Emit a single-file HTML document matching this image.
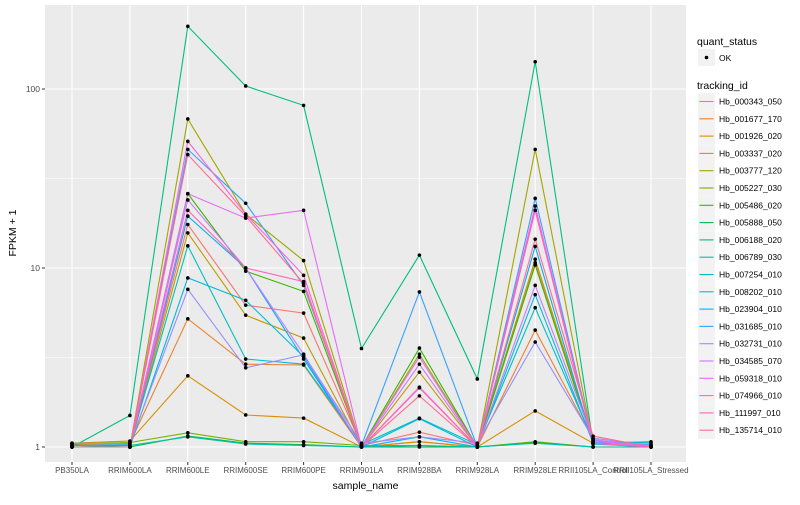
<!DOCTYPE html>
<html><head><meta charset="utf-8"><style>
body{margin:0;background:#fff;font-family:"Liberation Sans",sans-serif}
svg text{font-family:"Liberation Sans",sans-serif}
</style></head><body>
<svg id="c" width="800" height="500"></svg>
<script>
const categories=["PB350LA","RRIM600LA","RRIM600LE","RRIM600SE","RRIM600PE","RRIM901LA","RRIM928BA","RRIM928LA","RRIM928LE","RRII105LA_Control","RRII105LA_Stressed"];
const seriesNames=["Hb_000343_050","Hb_001677_170","Hb_001926_020","Hb_003337_020","Hb_003777_120","Hb_005227_030","Hb_005486_020","Hb_005888_050","Hb_006188_020","Hb_006789_030","Hb_007254_010","Hb_008202_010","Hb_023904_010","Hb_031685_010","Hb_032731_010","Hb_034585_070","Hb_059318_010","Hb_074966_010","Hb_111997_010","Hb_135714_010"];
const seriesColors=["#F8766D","#EA8331","#D89000","#C09B00","#A3A500","#7CAE00","#39B600","#00BB4E","#00BF7D","#00C1A3","#00BFC4","#00BAE0","#00B0F6","#35A2FF","#9590FF","#C77CFF","#E76BF3","#FA62DB","#FF62BC","#FF6C91"];
const s0=[1.02,1.02,17.5,6.2,5.6,1.02,1.21,1.02,10.7,1.05,1.0];
const s1=[1.03,1.05,5.2,2.9,2.87,1.0,1.07,1.0,4.5,1.1,1.0];
const s2=[1.05,1.08,2.5,1.51,1.45,1.0,1.07,1.0,1.59,1.05,1.0];
const s3=[1.0,1.0,15.7,5.45,4.06,1.0,2.62,1.0,11.2,1.08,1.02];
const s4=[1.0,1.0,68,20,11,1.0,3.3,1.0,46,1.05,1.0];
const s5=[1.04,1.06,1.2,1.07,1.07,1.02,1.02,1.0,1.07,1.0,1.0];
const s6=[1.0,1.0,26,9.6,7.4,1.0,3.57,1.0,10.4,1.05,1.0];
const s7=[1.0,1.0,1.15,1.05,1.03,1.0,1.0,1.0,1.06,1.0,1.0];
const s8=[1.0,1.5,224,104,81,3.55,11.8,2.4,142,1.05,1.0];
const s9=[1.0,1.02,1.14,1.04,1.02,1.0,1.02,1.0,1.05,1.0,1.0];
const s10=[1.02,1.03,13.3,3.1,2.9,1.03,1.45,1.03,6.0,1.08,1.05];
const s11=[1.0,1.0,8.8,6.6,3.2,1.0,1.44,1.0,7.1,1.05,1.07];
const s12=[1.0,1.0,19.5,10,3.1,1.0,1.14,1.0,13.2,1.04,1.0];
const s13=[1.0,1.0,46,23,8.0,1.02,7.35,1.0,24.5,1.06,1.03];
const s14=[1.05,1.04,7.6,2.77,3.27,1.05,1.14,1.05,3.86,1.12,1.02];
const s15=[1.0,1.0,24,10,3.3,1.0,2.9,1.0,8.0,1.1,1.0];
const s16=[1.0,1.0,26,19,21,1.0,3.18,1.0,21,1.08,1.0];
const s17=[1.0,1.0,51,20,9.1,1.0,2.16,1.0,22.2,1.05,1.0];
const s18=[1.0,1.0,21,10,8.4,1.0,2.14,1.0,21,1.05,1.0];
const s19=[1.0,1.0,43,19.5,8.2,1.0,1.93,1.0,14.5,1.15,1.0];
const seriesValues=[s0,s1,s2,s3,s4,s5,s6,s7,s8,s9,s10,s11,s12,s13,s14,s15,s16,s17,s18,s19];
const yTicks=[1,10,100];
const yTickLabels=["1","10","100"];

const NS="http://www.w3.org/2000/svg";
const svg=document.getElementById('c');
function mk(t,a,p){const e=document.createElementNS(NS,t);for(const k in a)e.setAttribute(k,a[k]);(p||svg).appendChild(e);return e;}
const PL=45,PR=686,PT=5,PB=462;
function xs(i){return 72+i*57.9;}
function ys(v){return 447-179*Math.log10(v);}

const panel=mk('rect',{x:PL,y:PT,width:PR-PL,height:PB-PT,fill:'#EBEBEB'});


[Math.sqrt(10),Math.sqrt(1000)].forEach(v=>{const l=mk('line',{x1:PL,x2:PR,y1:ys(v),y2:ys(v),stroke:'#fff','stroke-width':0.5});

});
yTicks.forEach((v,i)=>{const l=mk('line',{x1:PL,x2:PR,y1:ys(v),y2:ys(v),stroke:'#fff','stroke-width':1.1});


mk('line',{x1:PL-3,x2:PL,y1:ys(v),y2:ys(v),stroke:'#333','stroke-width':1});
const t=mk('text',{x:PL-5,y:ys(v)+3,'text-anchor':'end','font-size':8.5,fill:'#4D4D4D'});t.textContent=yTickLabels[i];

});
categories.forEach((c,i)=>{const l=mk('line',{x1:xs(i),x2:xs(i),y1:PT,y2:PB,stroke:'#fff','stroke-width':1.1});


mk('line',{x1:xs(i),x2:xs(i),y1:PB,y2:PB+3,stroke:'#333','stroke-width':1});
const t=mk('text',{x:xs(i),y:PB+11,'text-anchor':'middle','font-size':8,fill:'#4D4D4D'});t.textContent=c;

});
seriesValues.forEach((vals,si)=>{const g=mk('g',{});


const pts=vals.map((v,i)=>xs(i).toFixed(1)+','+ys(v).toFixed(1)).join(' ');
mk('polyline',{points:pts,fill:'none',stroke:seriesColors[si],'stroke-width':1.1},g);});
seriesValues.forEach((vals,si)=>{vals.forEach((v,i)=>{const c=mk('circle',{cx:xs(i),cy:ys(v),r:1.8,fill:'#000'});

});});
let t=mk('text',{x:(PL+PR)/2,y:489,'text-anchor':'middle','font-size':10.5,fill:'#000'});t.textContent='sample_name';


t=mk('text',{x:0,y:0,'text-anchor':'middle','font-size':10.5,fill:'#000',transform:'translate(16,233) rotate(-90)'});t.textContent='FPKM + 1';


const lg=mk('g',{});


t=mk('text',{x:697,y:45,'font-size':10.5,fill:'#000'},lg);t.textContent='quant_status';


mk('rect',{x:698,y:49,width:17,height:17,fill:'#F2F2F2'},lg);
mk('circle',{cx:706.5,cy:57.5,r:1.8,fill:'#000'},lg);
t=mk('text',{x:719,y:61,'font-size':8.5,fill:'#000'},lg);t.textContent='OK';


t=mk('text',{x:697,y:89,'font-size':10.5,fill:'#000'},lg);t.textContent='tracking_id';


seriesNames.forEach((n,i)=>{const y=101.5+i*17.3;
const e=mk('g',{},lg);


mk('rect',{x:698,y:y-8.6,width:17,height:17.3,fill:'#F2F2F2'},e);
mk('line',{x1:699.5,x2:713.5,y1:y,y2:y,stroke:seriesColors[i],'stroke-width':1.1},e);
const tt=mk('text',{x:719,y:y+3,'font-size':8.5,fill:'#000'},e);tt.textContent=n;});
</script>
</body></html>
